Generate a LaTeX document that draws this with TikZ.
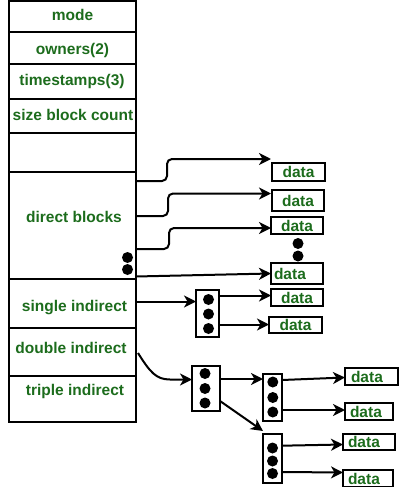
\documentclass[tikz,border=0pt]{standalone}
\usepackage{fontspec}
\setmainfont{Liberation Sans}
\usetikzlibrary{arrows.meta,calc}
\definecolor{txtgreen}{RGB}{28,108,28}
\begin{document}
\begin{tikzpicture}[x=1pt,y=-1pt,
  lw/.style={line width=2pt},
  cell/.style={draw, lw, anchor=north west, minimum width=127pt, inner sep=0pt, outer sep=0pt},
  lbl/.style={text=txtgreen, font=\fontsize{15.5}{18}\selectfont\bfseries, inner sep=0pt, anchor=base},
  dbox/.style={draw, lw, text=txtgreen, font=\fontsize{15.5}{18}\selectfont\bfseries, inner ysep=0pt, outer sep=0pt},
  dboxl/.style 2 args={dbox, inner xsep=#1, text width=#2, align=left},
  ibox/.style={draw, lw, inner sep=0pt, outer sep=0pt, anchor=north west},
  dot/.style={circle, fill=black, inner sep=0pt, minimum size=11pt},
  arr/.style={lw, -{Stealth[length=12pt,width=12pt,inset=3.5pt]}}
]
\useasboundingbox (0,0) rectangle (400,487);

% main column
\node[cell, minimum height=31pt] (mode) at (9,1) {};
\node[cell, minimum height=32pt] (owners) at (9,32) {};
\node[cell, minimum height=35pt] (times) at (9,64) {};
\node[cell, minimum height=34pt] (size) at (9,99) {};
\node[cell, minimum height=39pt] (empty) at (9,133) {};
\node[cell, minimum height=107pt] (direct) at (9,172) {};
\node[cell, minimum height=49pt] (single) at (9,279) {};
\node[cell, minimum height=48pt] (double) at (9,328) {};
\node[cell, minimum height=46pt] (triple) at (9,376) {};

\node[lbl] (tmode) at (72.5,20.7) {mode};
\node[lbl] (towners) at (72.5,54.3) {owners(2)};
\node[lbl] (ttimes) at (72,85) {timestamps(3)};
\node[lbl] (tsize) at (73,120.5) {size block count};
\node[lbl] (tdirect) at (74,222.3) {direct blocks};
\node[lbl] (tsingle) at (74.5,311.7) {single indirect};
\node[lbl] (tdouble) at (71,353.3) {double indirect};
\node[lbl] (ttriple) at (75,395.7) {triple indirect};

\node[dot] (m1) at (127.5,257.5) {};
\node[dot] (m2) at (127.5,269.5) {};

% direct data blocks
\node[dbox, minimum width=53pt, minimum height=18pt] (d1) at (298.5,172) {data};
\node[dbox, minimum width=52pt, minimum height=21pt] (d2) at (298,200.5) {data};
\node[dbox, minimum width=52pt, minimum height=17pt] (d3) at (297,225.5) {data};
\node[dot] (v1) at (298,243.5) {};
\node[dot] (v2) at (298,256) {};
\node[dboxl={3pt}{46pt}, minimum height=21pt] (d4) at (297,273.5) {data};

\coordinate (s1) at (136,181);
\coordinate (e1) at (271,159);
\coordinate (s2) at (136,216);
\coordinate (e2) at (271,193.5);
\coordinate (s3) at (136,249);
\coordinate (e3) at (271,228);
\coordinate (s4) at (136,276.5);
\coordinate (e4) at (271,273.5);
\draw[arr, rounded corners=5pt] (s1) -| (167,170) |- (e1);
\draw[arr, rounded corners=5pt] (s2) -| (168,205) |- (e2);
\draw[arr, rounded corners=5pt] (s3) -| (169,238) |- (e3);
\draw[arr] (s4) -- (e4);

% single indirect
\node[ibox, minimum width=23pt, minimum height=47pt] (i1) at (196,290) {};
\node[dot] (i1a) at (208.5,299.5) {};
\node[dot] (i1b) at (208.5,314) {};
\node[dot] (i1c) at (208.5,328.5) {};
\node[dbox, minimum width=52pt, minimum height=17pt] (d5) at (297,297.5) {data};
\node[dbox, minimum width=53pt, minimum height=16pt] (d6) at (295.5,325) {data};
\coordinate (s5) at (136,301.5);
\draw[arr] (s5) -- (s5 -| i1.west);
\draw[arr] (i1.east |- 0,295.5) -- (d5.west |- 0,295.5);
\draw[arr] (i1.east |- 0,324.5) -- (d6.west |- 0,324.5);

% double indirect
\node[ibox, minimum width=28pt, minimum height=45pt] (ia) at (192,366) {};
\node[dot] (iaa) at (205,373.5) {};
\node[dot] (iab) at (205,388.5) {};
\node[dot] (iac) at (205,403) {};
\node[ibox, minimum width=19pt, minimum height=47pt] (ib) at (263,374) {};
\node[dot] (iba) at (272.8,382) {};
\node[dot] (ibb) at (272.8,397.5) {};
\node[dot] (ibc) at (272.8,412) {};
\node[ibox, minimum width=19pt, minimum height=49pt] (ic) at (263,433.5) {};
\node[dot] (ica) at (272.5,448) {};
\node[dot] (icb) at (272.5,461) {};
\node[dot] (icc) at (272.5,473.5) {};

\node[dboxl={6pt}{41pt}, minimum height=17pt] (e5) at (371.5,376.5) {data};
\node[dboxl={5pt}{38pt}, minimum height=17pt] (e6) at (369,411.5) {data};
\node[dboxl={5pt}{42pt}, minimum height=16pt] (e7) at (369,442) {data};
\node[dboxl={5pt}{40pt}, minimum height=17pt] (e8) at (368,478.5) {data};

\coordinate (s6) at (138,353);
\draw[arr] (s6) .. controls (150,372) and (156,379.5) .. (170,379.5) -- (ia.west |- 0,379.5);
\draw[arr] (ia.east |- 0,379) -- (ib.west |- 0,379);
\draw[arr] (ia.east |- 0,401) -- (ib.west |- 0,431);
\draw[arr] (ib.east |- 0,380) -- (e5.west |- 0,377.5);
\draw[arr] (ib.east |- 0,410) -- (e6.west |- 0,410);
\draw[arr] (ic.east |- 0,445.7) -- (e7.west |- 0,444.5);
\draw[arr] (ic.east |- 0,472) -- (e8.west |- 0,472.5);
\end{tikzpicture}
\end{document}
